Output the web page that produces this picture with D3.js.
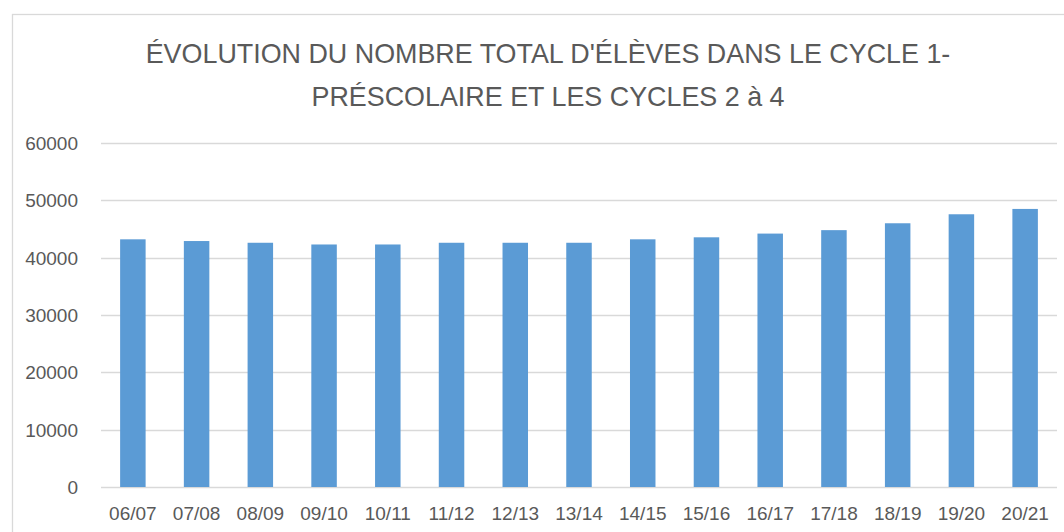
<!DOCTYPE html>
<html>
<head>
<meta charset="utf-8">
<script src="https://cdn.jsdelivr.net/npm/d3@7"></script>
<style>
	body { margin: 0; background: #fff; }
	svg { display: block; }
</style>
</head>
<body>
<div id="chart"></div>
<script>
// Data
var years = ["06/07", "07/08", "08/09", "09/10", "10/11", "11/12", "12/13", "13/14",
	"14/15", "15/16", "16/17", "17/18", "18/19", "19/20", "20/21"];
var eleves = [43200, 42900, 42600, 42300, 42300, 42600, 42600, 42600,
	43200, 43550, 44200, 44800, 46000, 47570, 48500];
var yTicks = [0, 10000, 20000, 30000, 40000, 50000, 60000];
var titleLines = ["ÉVOLUTION DU NOMBRE TOTAL D'ÉLÈVES DANS LE CYCLE 1-", "PRÉSCOLAIRE ET LES CYCLES 2 à 4"];

var W = 1064, H = 532;
var margin = {left: 101, right: 7, top: 143, bottom: 45};
var width = W - margin.left - margin.right;
var height = H - margin.top - margin.bottom;

var svg = d3.select("#chart")
	.append("svg")
	.attr("width", W)
	.attr("height", H);

// Chart area border
svg.append("rect")
	.attr("x", 12.5)
	.attr("y", 14.5)
	.attr("width", W + 10)
	.attr("height", H + 10)
	.attr("fill", "none")
	.attr("stroke", "#d9d9d9")
	.attr("stroke-width", 1.3);

// Title (condensed horizontally to look like the narrow original font)
var titleGroup = svg.append("g");
var title = titleGroup.append("text")
	.attr("text-anchor", "middle")
	.attr("fill", "#595959")
	.style("font-family", "'Liberation Sans', sans-serif")
	.style("font-size", "28px");

title.selectAll("tspan")
	.data(titleLines)
	.enter()
	.append("tspan")
	.attr("x", 0)
	.attr("y", function(d, i){ return 63 + i * 43; })
	.text(function(d){ return d; });

var len = title.select("tspan").node().getComputedTextLength();
var k = len > 0 ? 805 / len : 1;
titleGroup.attr("transform", "translate(548,0) scale(" + k + ",1)");

var g = svg.append("g")
	.attr("transform", "translate(" + margin.left + "," + margin.top + ")");

// Scales
var xScale = d3.scaleBand()
	.domain(years)
	.range([0, width])
	.paddingInner(0.6)
	.paddingOuter(0.3);

var yScale = d3.scaleLinear()
	.domain([0, 60000])
	.range([height, 0]);

// Gridlines
g.append("g")
	.selectAll("line")
	.data(yTicks)
	.enter()
	.append("line")
	.attr("x1", 0)
	.attr("x2", width)
	.attr("y1", function(d){ return Math.round(yScale(d)) + 0.5; })
	.attr("y2", function(d){ return Math.round(yScale(d)) + 0.5; })
	.attr("stroke", "#d9d9d9")
	.attr("stroke-width", 1.5);

// Bars
g.append("g")
	.selectAll("rect")
	.data(eleves)
	.enter()
	.append("rect")
	.attr("x", function(d, i){ return xScale(years[i]); })
	.attr("y", function(d){ return yScale(d); })
	.attr("width", xScale.bandwidth())
	.attr("height", function(d){ return height - yScale(d); })
	.attr("fill", "#5b9bd5");

// Y axis
var yAxis = g.append("g")
	.attr("transform", "translate(-20,0)")
	.call(d3.axisLeft(yScale).tickValues(yTicks).tickSize(0).tickFormat(d3.format("d")));
yAxis.select(".domain").remove();
yAxis.selectAll("text")
	.attr("fill", "#595959")
	.attr("dy", "0.35em")
	.style("font-family", "'Liberation Sans', sans-serif")
	.style("font-size", "19px");

// X axis
var xAxis = g.append("g")
	.attr("transform", "translate(0," + height + ")")
	.call(d3.axisBottom(xScale).tickSize(0));
xAxis.select(".domain").remove();
xAxis.selectAll("text")
	.attr("fill", "#595959")
	.attr("y", 20)
	.attr("dy", "0.71em")
	.style("font-family", "'Liberation Sans', sans-serif")
	.style("font-size", "19px");
</script>
</body>
</html>
